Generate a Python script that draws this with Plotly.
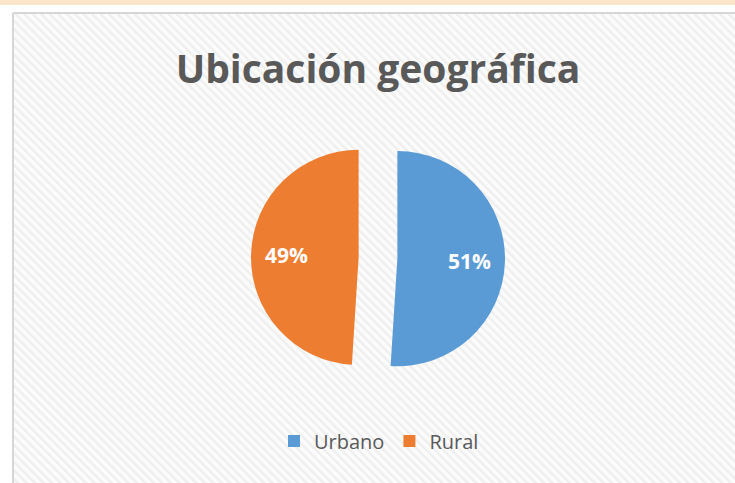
import base64
import math
import plotly.graph_objects as go

categories = ["Urbano", "Rural"]
values = [51, 49]
colors = ["#5B9BD5", "#ED7D31"]
title_text = "Ubicación geográfica"

W, H = 735, 483
L, T = 13, 13  # chart frame left/top edge (px)
FONT = "Open Sans"

# hatched background as an SVG image
svg = f'''<svg xmlns="http://www.w3.org/2000/svg" width="{W-L}" height="{H-T}">
<defs><pattern id="p" width="6" height="6" patternUnits="userSpaceOnUse" patternTransform="rotate(-45)">
<rect width="6" height="6" fill="#fcfcfc"/><rect x="0" y="0" width="2.5" height="6" fill="#efefef"/></pattern></defs>
<rect width="100%" height="100%" fill="url(#p)"/></svg>'''
src = "data:image/svg+xml;base64," + base64.b64encode(svg.encode()).decode()

cx, cy, R = 378, 258, 127
PULL = 0.18
r = R / (1 + PULL)

fig = go.Figure(go.Pie(
    labels=categories,
    values=values,
    marker=dict(colors=colors, line=dict(width=0)),
    sort=False,
    direction="clockwise",
    rotation=0,
    pull=[PULL] * len(values),
    textinfo="none",
    hoverinfo="skip",
    domain=dict(x=[(cx - R) / W, (cx + R) / W], y=[1 - (cy + R) / H, 1 - (cy - R) / H]),
))

# percentage labels placed along each slice bisector (derived from the data)
total = sum(values)
annotations = []
start = 0.0
for v in values:
    mid = (start + v / 2) / total * 2 * math.pi
    start += v
    rr = r * PULL + r * 0.67
    px = cx + rr * math.sin(mid)
    py = cy - rr * math.cos(mid)
    annotations.append(dict(text=f"{round(100 * v / total)}%", x=px / W, y=1 - py / H,
                            xref="paper", yref="paper", showarrow=False,
                            font=dict(family=FONT, size=21, color="white", weight="bold")))

fig.update_layout(
    width=W, height=H,
    margin=dict(l=0, r=0, t=0, b=0),
    paper_bgcolor="white",
    title=dict(text=title_text, x=cx / W, xanchor="center", y=1 - 69 / H, yanchor="middle",
               font=dict(family=FONT, size=39, color="#595959", weight="bold")),
    legend=dict(orientation="h", x=379 / W, xanchor="center", y=1 - 441 / H, yanchor="middle",
                font=dict(family=FONT, size=20, color="#595959"), bgcolor="rgba(0,0,0,0)",
                itemwidth=30, traceorder="normal"),
    annotations=annotations,
    images=[dict(source=src, xref="paper", yref="paper", x=L / W, y=1 - T / H,
                 sizex=(W - L) / W, sizey=(H - T) / H, sizing="stretch", layer="below")],
    shapes=[
        dict(type="rect", xref="paper", yref="paper", x0=0, x1=1, y0=1 - 5 / H, y1=1,
             fillcolor="#fbe6cc", line=dict(width=0), layer="below"),
        dict(type="line", xref="paper", yref="paper", x0=L / W, x1=1, y0=1 - T / H, y1=1 - T / H,
             line=dict(color="#d6d6d6", width=2), layer="below"),
        dict(type="line", xref="paper", yref="paper", x0=L / W, x1=L / W, y0=0, y1=1 - T / H,
             line=dict(color="#d6d6d6", width=2), layer="below"),
    ],
)

fig.write_html("out.html", config={"displayModeBar": False},
               post_script="document.body.style.margin='0';")
